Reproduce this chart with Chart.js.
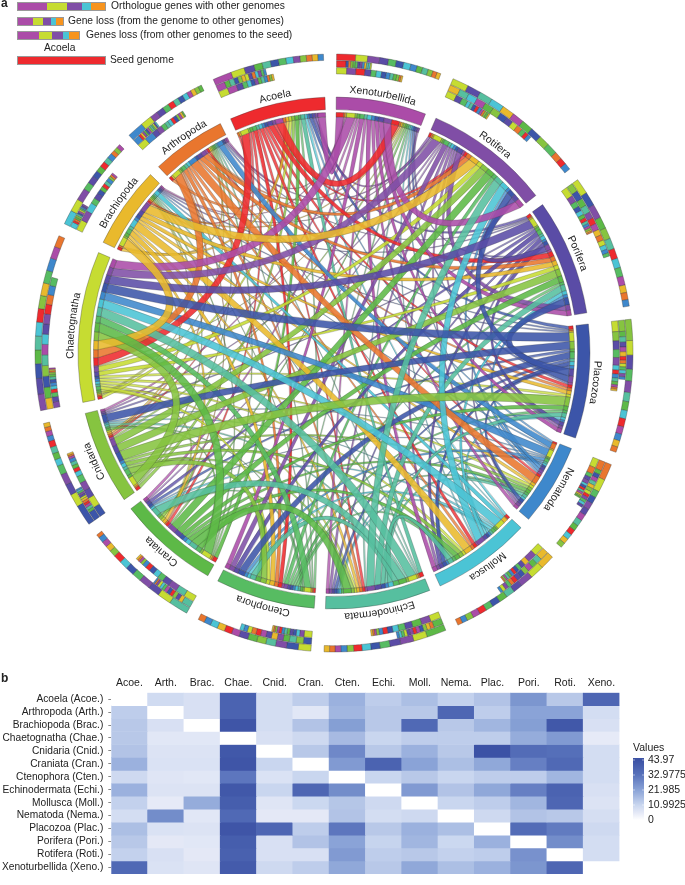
<!DOCTYPE html>
<html>
<head>
<meta charset="utf-8">
<script src="https://cdn.jsdelivr.net/npm/chart.js@4"></script>
<style>
    body { margin: 0; background: #fff; font-family: "Liberation Sans", sans-serif; color: #222; }
    #page { position: relative; width: 685px; height: 885px; overflow: hidden; }
    canvas { position: absolute; left: 0; }
    #chord { top: 0; }
    #heat { top: 665px; }
    .txt { position: absolute; font-size: 10.25px; line-height: 12px; white-space: nowrap; }
    .sw { position: absolute; display: flex; height: 7px; outline: 0.5px solid #999; }
</style>
</head>
<body>
<div id="page">
    <canvas id="chord" width="685" height="665"></canvas>
    <canvas id="heat" width="685" height="220"></canvas>
    <div class="txt" style="left:1px;top:-3px;font-weight:bold;font-size:12px">a</div>
    <div class="txt" style="left:1px;top:672px;font-weight:bold;font-size:12px">b</div>
    <div class="txt" style="left:111px;top:0px">Orthologue genes with other genomes</div>
    <div class="txt" style="left:68px;top:15px">Gene loss (from the genome to other genomes)</div>
    <div class="txt" style="left:86px;top:29px">Genes loss (from other genomes to the seed)</div>
    <div class="txt" style="left:44px;top:42px">Acoela</div>
    <div class="txt" style="left:110px;top:54px">Seed genome</div>
    <div id="swatches"></div>
</div>

<script>
const names = ['Acoela', 'Arthropoda', 'Brachiopoda', 'Chaetognatha', 'Cnidaria', 'Craniata', 'Ctenophora',
    'Echinodermata', 'Mollusca', 'Nematoda', 'Placozoa', 'Porifera', 'Rotifera', 'Xenoturbellida'];
const shortNames = ['Acoe.', 'Arth.', 'Brac.', 'Chae.', 'Cnid.', 'Cran.', 'Cten.',
    'Echi.', 'Moll.', 'Nema.', 'Plac.', 'Pori.', 'Roti.', 'Xeno.'];

// percentages, one array per row
const acoe = [0, 9.5, 8, 38, 9, 13, 19, 13, 16, 12, 15, 25, 14, 37];
const arth = [13, 0, 8, 38, 9, 6, 18, 14, 14, 37, 13, 22, 22, 9];
const brac = [14, 8, 0, 43, 9, 15, 23, 14, 36, 14, 18, 23, 42, 8];
const chae = [14, 6, 6, 0, 8, 10, 17, 11, 13, 13, 13, 20, 24, 5];
const cnid = [15, 7, 7, 42, 0, 14, 28, 14, 19, 14, 44, 35, 34, 9];
const cran = [19, 7.5, 7.5, 43, 11, 0, 24, 38, 22, 16, 21, 30, 36, 9];
const cten = [10, 6.5, 6, 32, 7.5, 11, 0, 11, 14, 11, 13, 13, 18, 9];
const echi = [19, 7, 7, 42, 11, 37, 27, 0, 24, 15, 21, 30, 38, 8];
const moll = [12, 5, 20, 40, 6.5, 10.5, 14.5, 10, 0, 11, 13, 18, 37, 7];
const nema = [9, 27, 6, 36, 5.5, 5.5, 15, 9, 10, 0, 10, 15, 14, 8.5];
const plac = [16, 7.5, 7, 43, 37, 13, 32, 14, 19, 16, 0, 35, 31, 10];
const pori = [14, 5.5, 6, 40, 8, 15, 22, 11.5, 18, 10.5, 19, 0, 27, 9];
const roti = [12, 8, 5.5, 39, 8, 8, 24, 13, 14, 12, 13, 26, 0, 9];
const xeno = [36, 7.5, 6.5, 41, 10, 13, 21, 14, 21, 16, 19, 25, 37, 0];
const rows = [acoe, arth, brac, chae, cnid, cran, cten, echi, moll, nema, plac, pori, roti, xeno];

const legendTicks = [43.97, 32.9775, 21.985, 10.9925, 0];
const gapSize = 50; // same unit as the percentages

const colors = ['#ee2a2e', '#e9762e', '#e9b92c', '#c6dc32', '#86c440', '#5db947', '#57bc62',
    '#56bf9f', '#4bc4d5', '#3e88cc', '#3c55a9', '#5a4ca6', '#804ea6', '#ab4ca8'];
const heatStops = [[0, [255, 255, 255]], [5, [230, 234, 247]], [11, [201, 214, 239]],
    [22, [138, 163, 215]], [33, [88, 114, 187]], [44, [60, 82, 165]]];

function heatColor(v) {
    for (let i = 1; i < heatStops.length; i++) {
        if (v <= heatStops[i][0]) {
            const a = heatStops[i - 1], b = heatStops[i];
            const t = (v - a[0]) / (b[0] - a[0]);
            const c = a[1].map((x, k) => Math.round(x + (b[1][k] - x) * t));
            return `rgb(${c[0]},${c[1]},${c[2]})`;
        }
    }
    return 'rgb(60,82,165)';
}

// the circle runs clockwise from Xenoturbellida to Acoela
const order = names.map((_, i) => names.length - 1 - i);
const others = i => names.map((_, j) => j).filter(j => j !== i);
const rowSum = i => rows[i].reduce((a, b) => a + b, 0);
const colSum = i => rows.reduce((a, r) => a + r[i], 0);
const sectorSize = i => rowSum(i) + colSum(i);

const line = 'rgba(50,50,50,0.65)';

// band ring
const bandData = [], bandColors = [], bandBorder = [];
order.forEach(i => {
    bandData.push(sectorSize(i), gapSize);
    bandColors.push(colors[i], 'transparent');
    bandBorder.push(line, 'transparent');
});

// slim ring: first the genome's own ribbons, then the ones coming in
const slotData = [], slotColors = [], slotBorder = [], slotIndex = {};
order.forEach(i => {
    others(i).forEach(j => {
        slotIndex['out' + i + '-' + j] = slotData.length;
        slotData.push(rows[i][j]); slotColors.push(colors[j]); slotBorder.push(line);
    });
    others(i).forEach(j => {
        slotIndex['in' + i + '-' + j] = slotData.length;
        slotData.push(rows[j][i]); slotColors.push(colors[j]); slotBorder.push(line);
    });
    slotData.push(gapSize); slotColors.push('transparent'); slotBorder.push('transparent');
});

// outer tracks, biggest share first
function track(valueOf) {
    const data = [], bg = [], bd = [];
    order.forEach(i => {
        const parts = others(i).map(j => [j, valueOf(i, j)]).sort((a, b) => b[1] - a[1]);
        let used = 0;
        parts.forEach(p => {
            data.push(p[1]); bg.push(colors[p[0]]); bd.push(line);
            used += p[1];
        });
        data.push(sectorSize(i) - used + gapSize); bg.push('transparent'); bd.push('transparent');
    });
    return { data: data, backgroundColor: bg, borderColor: bd, borderWidth: 0.5 };
}

const spacer = w => ({ data: [1], backgroundColor: 'transparent', borderWidth: 0, weight: w });

const ribbonPlugin = {
    id: 'ribbons',
    beforeDatasetsDraw(chart) {
        const c = chart.ctx;
        const area = chart.chartArea;
        const cx = (area.left + area.right) / 2, cy = (area.top + area.bottom) / 2;
        const slots = chart.getDatasetMeta(8).data;
        const r = slots[0].innerRadius;
        const at = a => [cx + r * Math.cos(a), cy + r * Math.sin(a)];

        const links = [];
        rows.forEach((row, i) => row.forEach((v, j) => {
            if (i !== j) links.push([v, i, j]);
        }));
        links.sort((a, b) => a[0] - b[0]);

        c.save();
        links.forEach(l => {
            const from = slots[slotIndex['out' + l[1] + '-' + l[2]]];
            const to = slots[slotIndex['in' + l[2] + '-' + l[1]]];
            const a0 = from.startAngle, a1 = from.endAngle, b0 = to.startAngle, b1 = to.endAngle;
            const w = r * (a1 - a0);

            // bend: close neighbours keep away from the middle
            const ma = (a0 + a1) / 2, mb = (b0 + b1) / 2;
            let d = Math.abs(ma - mb) % (2 * Math.PI);
            let sum = ma + mb;
            if (d > Math.PI) { d = 2 * Math.PI - d; sum += 2 * Math.PI; }
            const rc = 130 * (1 - d / Math.PI);
            const ctrl = [cx + rc * Math.cos(sum / 2), cy + rc * Math.sin(sum / 2)];

            // ribbons narrow towards their middle, the thin ones more than the wide ones
            const taper = 0.3 + 0.5 * l[0] / 44;
            const pa0 = at(a0), pa1 = at(a1), pb0 = at(b0), pb1 = at(b1);
            const pa = at(ma), pb = at(mb);
            let ux = pb[0] - pa[0], uy = pb[1] - pa[1];
            const len = Math.hypot(ux, uy) || 1;
            ux /= len; uy /= len;
            const Dx = (pa1[0] + pb0[0] - pb1[0] - pa0[0]) / 2, Dy = (pa1[1] + pb0[1] - pb1[1] - pa0[1]) / 2;
            let nx = -uy, ny = ux;
            if (nx * Dx + ny * Dy < 0) { nx = -nx; ny = -ny; }
            const sx = (2 * taper * w * nx - Dx) / 2, sy = (2 * taper * w * ny - Dy) / 2;

            c.beginPath();
            c.arc(cx, cy, r, a0, a1);
            c.quadraticCurveTo(ctrl[0] + sx, ctrl[1] + sy, pb0[0], pb0[1]);
            c.arc(cx, cy, r, b0, b1);
            c.quadraticCurveTo(ctrl[0] - sx, ctrl[1] - sy, pa0[0], pa0[1]);
            c.closePath();
            c.globalAlpha = Math.min(0.88, 0.4 + l[0] / 40);
            c.fillStyle = colors[l[1]];
            c.fill();
            c.globalAlpha = 0.6;
            c.lineWidth = 0.4;
            c.strokeStyle = '#333';
            c.stroke();
        });
        c.restore();
    },
    afterDatasetsDraw(chart) {
        // names bent along the band
        const c = chart.ctx;
        const area = chart.chartArea;
        const cx = (area.left + area.right) / 2, cy = (area.top + area.bottom) / 2;
        const bands = chart.getDatasetMeta(6).data;
        const r = bands[0].outerRadius + 4.5;
        c.save();
        c.font = '10.5px "Liberation Sans"';
        c.fillStyle = '#222';
        c.textAlign = 'left';
        c.textBaseline = 'alphabetic';
        order.forEach((i, k) => {
            const arc = bands[k * 2];
            const mid = (arc.startAngle + arc.endAngle) / 2;
            const text = names[i];
            let a = mid - c.measureText(text).width / 2 / r;
            for (let n = 0; n < text.length; n++) {
                const w = c.measureText(text.slice(0, n + 1)).width - c.measureText(text.slice(0, n)).width;
                c.save();
                c.translate(cx + r * Math.cos(a), cy + r * Math.sin(a));
                c.rotate(a + Math.PI / 2);
                c.fillText(text[n], 0, 0);
                c.restore();
                a += w / r;
            }
        });
        c.restore();
    }
};

new Chart(document.getElementById('chord'), {
    type: 'doughnut',
    data: {
        datasets: [
            Object.assign(track((i, j) => rows[i][j] + rows[j][i]), { weight: 6.3 }),
            spacer(0.5),
            Object.assign(track((i, j) => rows[j][i]), { weight: 6.3 }),
            spacer(0.5),
            Object.assign(track((i, j) => rows[i][j]), { weight: 6.3 }),
            spacer(23.1),
            { data: bandData, backgroundColor: bandColors, borderColor: bandBorder, borderWidth: 0.5, weight: 12.5 },
            spacer(3),
            { data: slotData, backgroundColor: slotColors, borderColor: slotBorder, borderWidth: 0.5, weight: 4.5 }
        ]
    },
    options: {
        responsive: false,
        animation: false,
        rotation: 0.5,
        radius: 299,
        cutout: '78.93%',
        layout: { padding: { left: 24, top: 43, right: 41, bottom: 2 } },
        plugins: { legend: { display: false }, tooltip: { enabled: false } }
    },
    plugins: [ribbonPlugin]
});

const colorbarPlugin = {
    id: 'colorbar',
    afterDraw(chart) {
        const c = chart.ctx;
        const x = 633, w = 11, top = 95, bottom = 155;
        const max = legendTicks[0];
        const g = c.createLinearGradient(0, bottom, 0, top);
        heatStops.forEach(s => g.addColorStop(Math.min(s[0] / max, 1), heatColor(s[0])));
        c.save();
        c.fillStyle = g;
        c.fillRect(x, top - 2, w, bottom - top + 4);
        c.font = '10.5px "Liberation Sans"';
        c.fillStyle = '#222';
        c.textBaseline = 'middle';
        c.textAlign = 'left';
        c.fillText('Values', x, 83);
        legendTicks.forEach(v => {
            const y = bottom - (bottom - top) * v / max;
            c.fillText(String(v), x + 15, y);
            c.fillStyle = '#fff';
            c.fillRect(x, y - 0.25, 2, 0.5);
            c.fillRect(x + w - 2, y - 0.25, 2, 0.5);
            c.fillStyle = '#222';
        });
        c.restore();
    }
};

new Chart(document.getElementById('heat'), {
    type: 'bar',
    data: {
        labels: shortNames,
        datasets: rows.map((row, r) => ({
            label: names[r],
            data: row.map(() => [r, r + 1]),
            backgroundColor: row.map(heatColor),
            borderWidth: 0,
            grouped: false,
            barPercentage: 1,
            categoryPercentage: 1
        }))
    },
    options: {
        responsive: false,
        animation: false,
        layout: { padding: { left: 0, top: 0, right: 65.5, bottom: 0 } },
        scales: {
            x: {
                position: 'top',
                grid: { display: false, drawTicks: false },
                border: { display: false },
                ticks: { color: '#222', font: { family: 'Liberation Sans', size: 10.5 }, padding: 3, maxRotation: 0, autoSkip: false },
                afterFit(s) { s.height = 27.7; }
            },
            y: {
                reverse: true,
                min: 0,
                max: rows.length,
                border: { display: false },
                grid: { drawOnChartArea: false, drawTicks: true, tickLength: 3, color: '#888' },
                afterBuildTicks(s) { s.ticks = rows.map((_, i) => ({ value: i + 0.5 })); },
                ticks: {
                    color: '#222',
                    font: { family: 'Liberation Sans', size: 10.2 },
                    padding: 5,
                    autoSkip: false,
                    callback(v) {
                        const i = Math.floor(v);
                        return names[i] + ' (' + shortNames[i] + ')';
                    }
                },
                afterFit(s) { s.width = 111.3; }
            }
        },
        plugins: { legend: { display: false }, tooltip: { enabled: false } }
    },
    plugins: [colorbarPlugin]
});

// key at the top left of panel a
const keyColors = ['#ab4ca8', '#c6dc32', '#804ea6', '#4bc4d5', '#f7941e'];
const keyRows = [
    { left: 18, top: 3, parts: [29, 20, 15, 9, 14] },
    { left: 18, top: 17.5, parts: [15, 10, 8, 5, 7] },
    { left: 18, top: 32, parts: [21, 13, 11, 6, 10] }
];
const holder = document.getElementById('swatches');
keyRows.forEach(k => {
    const d = document.createElement('div');
    d.className = 'sw';
    d.style.left = k.left + 'px';
    d.style.top = k.top + 'px';
    k.parts.forEach((w, n) => {
        const p = document.createElement('div');
        p.style.width = w + 'px';
        p.style.background = keyColors[n];
        d.appendChild(p);
    });
    holder.appendChild(d);
});
const seed = document.createElement('div');
seed.className = 'sw';
seed.style.cssText = 'left:18px;top:57px;width:87px;background:' + colors[0];
holder.appendChild(seed);
</script>
</body>
</html>
